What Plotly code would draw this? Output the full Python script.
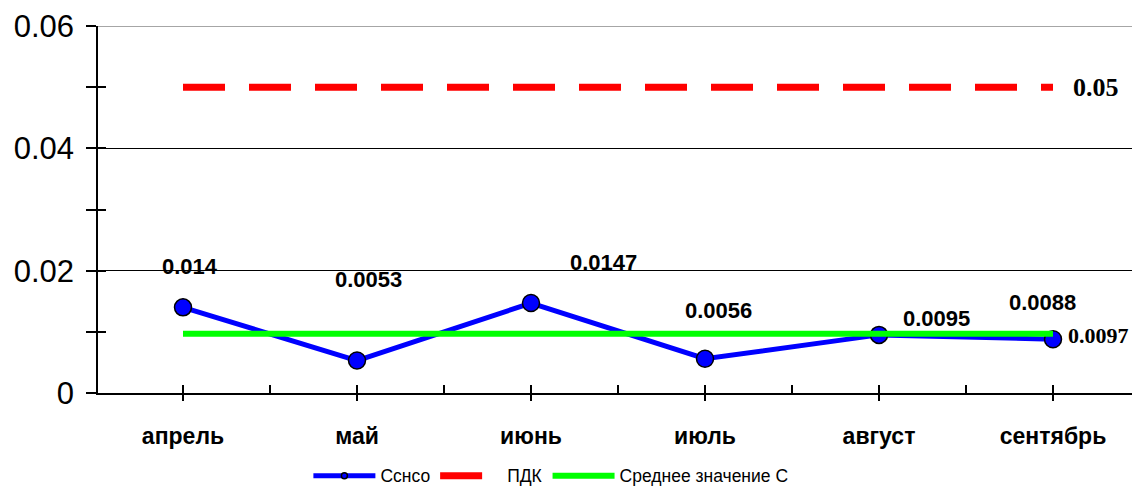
import plotly.graph_objects as go

months = ["апрель", "май", "июнь", "июль", "август", "сентябрь"]
c_values = [0.014, 0.0053, 0.0147, 0.0056, 0.0095, 0.0088]
pdk_value = 0.05
mean_value = 0.0097
y_tick_values = [0, 0.02, 0.04, 0.06]
y_tick_labels = ["0", "0.02", "0.04", "0.06"]
series_names = ["Сснсо", "ПДК", "Среднее значение С"]

# label offsets (px) for the data labels, style only
label_dx = [7, 11, 72, 13, 57, -11]
label_dy = [41, 81, 41, 48, 16, 37]

xs = list(range(len(months)))
SANS = "Liberation Sans, Arial"
SERIF = "Liberation Serif, Times New Roman"

fig = go.Figure()
fig.add_trace(go.Scatter(
    x=xs, y=c_values, mode="lines+markers", name=series_names[0], showlegend=False,
    line=dict(color="#0000ff", width=5),
    marker=dict(size=17, color="#0000ff", line=dict(color="black", width=1.5)),
))
# legend entry for the blue series (small marker as in the original legend)
fig.add_trace(go.Scatter(
    x=[None], y=[None], mode="lines+markers", name=series_names[0],
    line=dict(color="#0000ff", width=5),
    marker=dict(size=6, color="#0000ff", line=dict(color="black", width=1.5)),
))
fig.add_trace(go.Scatter(
    x=[xs[0], xs[-1]], y=[pdk_value, pdk_value], mode="lines", name=series_names[1],
    line=dict(color="#ff0000", width=7, dash="42px,24px"),
))
fig.add_trace(go.Scatter(
    x=[xs[0], xs[-1]], y=[mean_value, mean_value], mode="lines", name=series_names[2],
    line=dict(color="#00ff00", width=6),
))
fig.add_trace(go.Scatter(x=[None], y=[None], xaxis="x2", yaxis="y2",
                         showlegend=False, hoverinfo="skip"))

ann = []
for i, v in enumerate(c_values):
    ann.append(dict(x=xs[i], y=v, text=str(v), showarrow=False,
                    xshift=label_dx[i], yshift=label_dy[i],
                    font=dict(family=SANS, size=22, color="black")))
ann.append(dict(x=xs[-1], y=pdk_value, text=f"{pdk_value:.2f}", showarrow=False,
                xanchor="left", xshift=18, font=dict(family=SERIF, size=26, color="black")))
ann.append(dict(x=xs[-1], y=mean_value, text=str(mean_value), showarrow=False,
                xanchor="left", xshift=13, yshift=-2,
                font=dict(family=SERIF, size=22, color="black")))
for a in ann:
    a["font"]["weight"] = "bold"

xr = [-0.4885, 5.454]
yr = [0, 0.06]

fig.update_layout(
    width=1132, height=486,
    margin=dict(l=98, r=0, t=26, b=93),
    paper_bgcolor="white", plot_bgcolor="white",
    showlegend=True,
    legend=dict(orientation="h", x=0.438, xanchor="center",
                yref="container", y=0.021, yanchor="middle",
                font=dict(family=SANS, size=17.5, color="black"), itemwidth=62,
                tracegroupgap=0),
    annotations=ann,
    xaxis=dict(range=xr, tickmode="array", tickvals=xs, ticktext=months,
               ticks="outside", ticklen=6, tickwidth=1.5, tickcolor="black",
               showline=True, linecolor="black", linewidth=1.5, showgrid=False,
               zeroline=False, ticklabelstandoff=16,
               tickfont=dict(family=SANS, size=23, color="black", weight="bold")),
    yaxis=dict(range=yr, tickmode="array", tickvals=y_tick_values, ticktext=y_tick_labels,
               ticks="outside", ticklen=10, tickwidth=1.5, tickcolor="black",
               minor=dict(tickvals=[0.01, 0.03, 0.05], ticks="outside", ticklen=10,
                          tickwidth=1.5, tickcolor="black", showgrid=False),
               showline=True, linecolor="black", linewidth=1.5,
               showgrid=True, gridcolor="black", gridwidth=1, zeroline=False,
               ticklabelstandoff=6,
               tickfont=dict(family=SANS, size=31, color="black")),
    xaxis2=dict(range=xr, overlaying="x", anchor="y2", tickmode="array",
                tickvals=[i * 0.5 for i in range(12)], ticks="inside", ticklen=8,
                tickwidth=1.5, tickcolor="black", showticklabels=False,
                showgrid=False, zeroline=False, showline=False),
    yaxis2=dict(range=yr, overlaying="y", anchor="x2", tickmode="array",
                tickvals=[0, 0.01, 0.02, 0.03, 0.04, 0.05, 0.06], ticks="inside", ticklen=8,
                tickwidth=1.5, tickcolor="black", showticklabels=False,
                showgrid=False, zeroline=False, showline=False),
    shapes=[dict(type="line", xref="paper", x0=0, x1=1, yref="y", y0=0.06, y1=0.06,
                 line=dict(color="#888888", width=1.5), layer="above")],
)

fig.write_html("out.html")
